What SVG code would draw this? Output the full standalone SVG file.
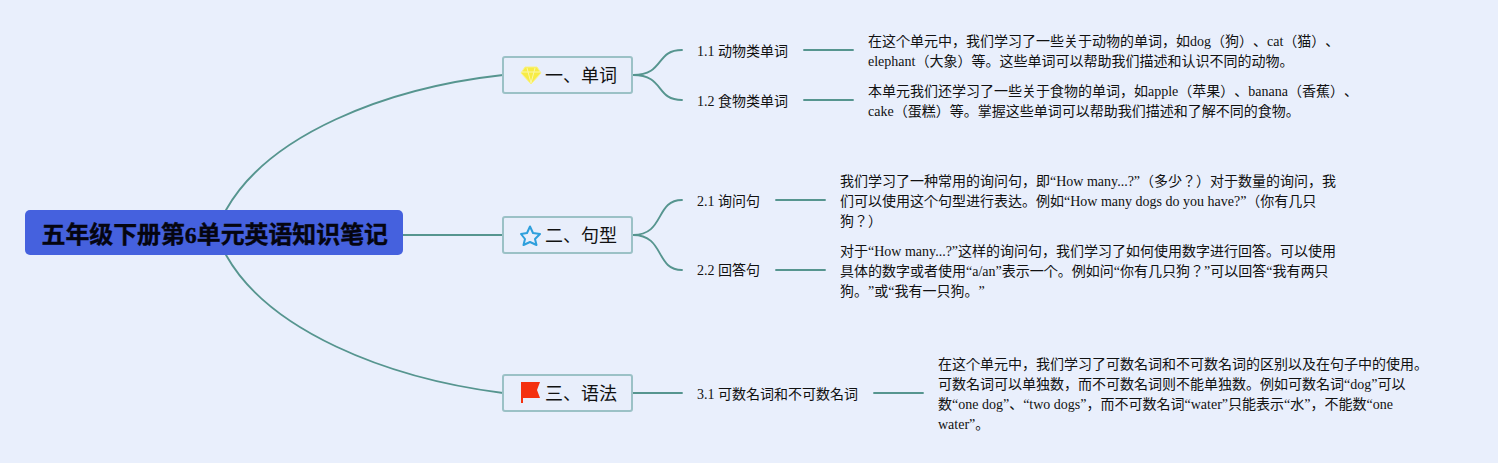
<svg xmlns="http://www.w3.org/2000/svg" width="1498" height="463" viewBox="0 0 1498 463">
<style>
text{font-family:"Liberation Serif","Noto Sans CJK JP",serif;fill:#111;text-spacing-trim:space-all}
.t{font-size:14px}
.b{font-size:18px}
.r{font-size:23.9px;font-weight:bold;fill:#050510;stroke:#050510;stroke-width:.4}
.box{fill:#e8eefb;stroke:#9bc1c6;stroke-width:2}
#connectors path{fill:none;stroke:#56958f;stroke-width:1.9;stroke-linecap:round}
</style>
<rect width="1498" height="463" fill="#e9effc"/>
<g id="connectors">
<path d="M226 210C268 135 385 88 503 75"/>
<path d="M403 235H503"/>
<path d="M226 255C268 330 385 378 503 393"/>
<path d="M633 75C665 75 655 50 682 50"/>
<path d="M633 75C665 75 655 100 682 100"/>
<path d="M633 235C665 235 655 200 682 200"/>
<path d="M633 235C665 235 655 270 682 270"/>
<path d="M633 393H682"/>
<path d="M804 50H853"/>
<path d="M804 100H853"/>
<path d="M776 200H825"/>
<path d="M776 270H825"/>
<path d="M874 393H923"/>
</g>
<g id="root"><rect x="25" y="210" width="378" height="45" rx="5" fill="#4561de"/><text class="r" x="41.5" y="243">五年级下册第6单元英语知识笔记</text></g>
<g id="b1"><rect class="box" x="503" y="57" width="129" height="36" rx="2"/>
<path d="M525 67H537L541 73L531 84L521 73Z" fill="#f7ec45" stroke="#f9f28a" stroke-width="1"/>
<path d="M522 72H540M527 68L531 83M535 68L531 83" stroke="#fbf7a8" stroke-width="1" fill="none"/>
<text class="b" x="545" y="82">一、单词</text></g>
<g id="b2"><rect class="box" x="503" y="217" width="129" height="36" rx="2"/>
<path d="M530 226.500L533 233L540 234L535 239L536.500 245L530 242L523.500 245L525 239L521 234L527 233Z" fill="#e8eefb" stroke="#2e9fdc" stroke-width="2" stroke-linejoin="round"/>
<text class="b" x="545" y="242">二、句型</text></g>
<g id="b3"><rect class="box" x="503" y="375" width="129" height="36" rx="2"/>
<path d="M521 382H540L537 390L540 398H523V403H521Z" fill="#f4300f"/>
<text class="b" x="545" y="400">三、语法</text></g>
<g id="n11"><text class="t" x="697" y="56">1.1 动物类单词</text></g>
<g id="n12"><text class="t" x="697" y="106">1.2 食物类单词</text></g>
<g id="n21"><text class="t" x="697" y="206">2.1 询问句</text></g>
<g id="n22"><text class="t" x="697" y="275">2.2 回答句</text></g>
<g id="n31"><text class="t" x="697" y="399">3.1 可数名词和不可数名词</text></g>
<g id="d11"><text class="t" x="868" y="46">在这个单元中，我们学习了一些关于动物的单词，如dog（狗）、cat（猫）、</text><text class="t" x="868" y="66">elephant（大象）等。这些单词可以帮助我们描述和认识不同的动物。</text></g>
<g id="d12"><text class="t" x="868" y="96">本单元我们还学习了一些关于食物的单词，如apple（苹果）、banana（香蕉）、</text><text class="t" x="868" y="116">cake（蛋糕）等。掌握这些单词可以帮助我们描述和了解不同的食物。</text></g>
<g id="d21"><text class="t" x="840" y="186">我们学习了一种常用的询问句，即“How many...?”（多少？）对于数量的询问，我</text><text class="t" x="840" y="206">们可以使用这个句型进行表达。例如“How many dogs do you have?”（你有几只</text><text class="t" x="840" y="226">狗？）</text></g>
<g id="d22"><text class="t" x="840" y="256">对于“How many...?”这样的询问句，我们学习了如何使用数字进行回答。可以使用</text><text class="t" x="840" y="276">具体的数字或者使用“a/an”表示一个。例如问“你有几只狗？”可以回答“我有两只</text><text class="t" x="840" y="296">狗。”或“我有一只狗。”</text></g>
<g id="d31"><text class="t" x="938" y="369">在这个单元中，我们学习了可数名词和不可数名词的区别以及在句子中的使用。</text><text class="t" x="938" y="389">可数名词可以单独数，而不可数名词则不能单独数。例如可数名词“dog”可以</text><text class="t" x="938" y="409">数“one dog”、“two dogs”，而不可数名词“water”只能表示“水”，不能数“one</text><text class="t" x="938" y="429">water”。</text></g>
</svg>
